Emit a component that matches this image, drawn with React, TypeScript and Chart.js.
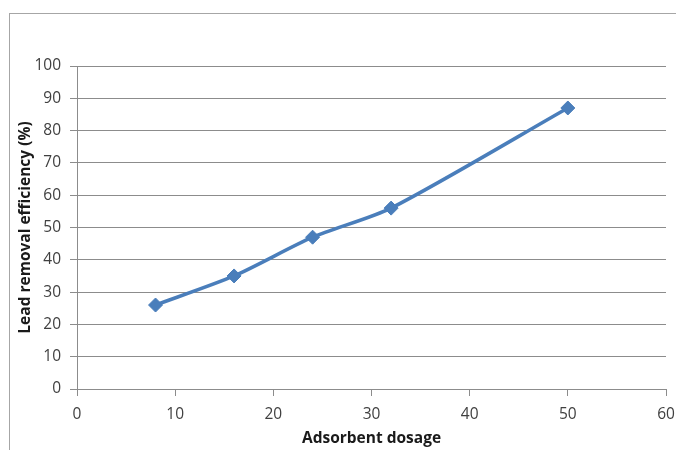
import React, { useEffect, useRef } from "react";
import { Chart, registerables } from "chart.js";

Chart.register(...registerables);

// Lead removal efficiency at each adsorbent dosage
const dosage = [8, 16, 24, 32, 50];
const efficiency = [26, 35, 47, 56, 87];

const xTitle = "Adsorbent dosage";
const yTitle = "Lead removal efficiency (%)";

const lineColor = "#4a7ebb";
const gridColor = "#8c8c8c";
const textColor = "#404040";

// Thin grey frame around the whole chart, like an office chart object
const framePlugin = {
  id: "frame",
  beforeDraw(chart: Chart) {
    const ctx = chart.ctx;
    ctx.save();
    ctx.fillStyle = "#ffffff";
    ctx.fillRect(0, 0, chart.width, chart.height);
    ctx.strokeStyle = "#a6a6a6";
    ctx.lineWidth = 1;
    ctx.strokeRect(9.5, 13.5, chart.width + 20, chart.height + 20);
    ctx.restore();
  },
};

export default function App() {
  const canvasRef = useRef<HTMLCanvasElement>(null);

  useEffect(() => {
    const canvas = canvasRef.current;
    if (!canvas) return;
    const chart = new Chart(canvas, {
      type: "line",
      data: {
        datasets: [
          {
            data: dosage.map((x, i) => ({ x, y: efficiency[i] })),
            borderColor: lineColor,
            backgroundColor: lineColor,
            borderWidth: 3.5,
            tension: 0.25,
            pointStyle: "rectRot",
            pointRadius: 7,
            pointHoverRadius: 7,
            pointBackgroundColor: lineColor,
            pointBorderColor: lineColor,
            pointBorderWidth: 1,
            fill: false,
          },
        ],
      },
      options: {
        animation: false,
        responsive: false,
        maintainAspectRatio: false,
        events: [],
        layout: { padding: { left: 0, top: 66, right: 10, bottom: 0 } },
        plugins: {
          legend: { display: false },
          tooltip: { enabled: false },
          title: { display: false },
        },
        scales: {
          x: {
            type: "linear",
            min: 0,
            max: 60,
            afterFit: (scale: any) => {
              scale.height = 61;
              scale.paddingLeft = 0;
              scale.paddingRight = 0;
            },
            ticks: {
              stepSize: 10,
              color: textColor,
              padding: 9,
              maxRotation: 0,
              font: { family: "'Open Sans', sans-serif", size: 15.5 },
            },
            grid: {
              display: true,
              drawOnChartArea: false,
              drawTicks: true,
              tickLength: 7,
              color: gridColor,
              lineWidth: 1,
            },
            border: { display: true, color: gridColor, width: 1 },
            title: {
              display: true,
              text: xTitle,
              color: "#1a1a1a",
              padding: { top: 0, bottom: 2 },
              font: { family: "'Open Sans', sans-serif", size: 15.5, weight: "bold" },
            },
          },
          y: {
            type: "linear",
            min: 0,
            max: 100,
            afterFit: (scale: any) => {
              scale.width = 77;
              scale.paddingTop = 0;
              scale.paddingBottom = 0;
            },
            ticks: {
              stepSize: 10,
              color: textColor,
              padding: 9,
              font: { family: "'Open Sans', sans-serif", size: 15.5 },
            },
            grid: {
              display: true,
              drawTicks: true,
              tickLength: 7,
              color: gridColor,
              lineWidth: 1,
            },
            border: { display: true, color: gridColor, width: 1 },
            title: {
              display: true,
              text: yTitle,
              color: "#1a1a1a",
              padding: { top: 16, bottom: 0 },
              font: { family: "'Open Sans', sans-serif", size: 15.5, weight: "bold" },
            },
          },
        },
      },
      plugins: [framePlugin],
    });
    return () => chart.destroy();
  }, []);

  return (
    <div style={{ position: "fixed", left: 0, top: 0, width: 676, height: 450, overflow: "hidden", background: "#fff" }}>
      <canvas ref={canvasRef} width={676} height={450} style={{ display: "block", width: 676, height: 450 }} />
    </div>
  );
}
